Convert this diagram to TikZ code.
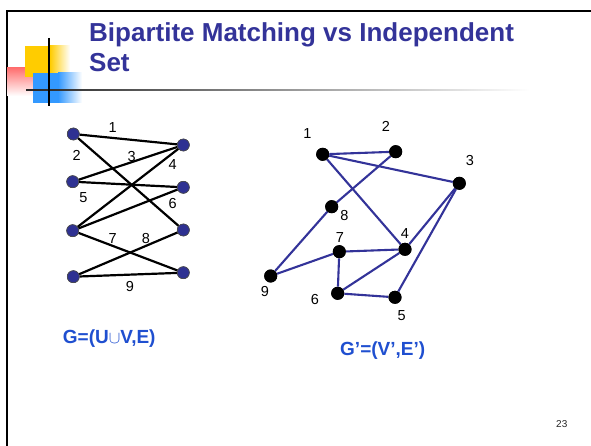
\documentclass[tikz,border=0pt]{standalone}
\usepackage{fontspec}
\setmainfont{Liberation Sans}
\definecolor{titleblue}{HTML}{333399}
\definecolor{edgeblue}{HTML}{333399}
\definecolor{nodenavy}{HTML}{2E3192}
\definecolor{labblue}{HTML}{1F4FD0}
\definecolor{decoyellow}{HTML}{FFCC00}
\definecolor{decoblue}{HTML}{3399FF}
\definecolor{decored}{HTML}{FF7070}
\tikzset{
  lnode/.style={circle,fill=nodenavy,draw=black!70,line width=0.6pt,minimum size=12pt,inner sep=0pt},
  rnode/.style={circle,fill=black,minimum size=13pt,inner sep=0pt},
  ledge/.style={black,line width=2.2pt},
  redge/.style={edgeblue,line width=2.1pt},
  numlab/.style={font=\fontsize{14.5}{16}\selectfont,inner sep=0pt},
  glab/.style={font=\fontsize{19}{21}\selectfont\bfseries,text=labblue,inner sep=0pt,anchor=base west},
}
\begin{document}
\begin{tikzpicture}[x=1pt,y=-1pt]
\useasboundingbox (0,0) rectangle (591,446);
\fill[white] (0,0) rectangle (591,446);
% frame
\draw[black,line width=2pt] (7,446) -- (7,11.5) -- (591,11.5);
% decoration
\shade[top color=decored, bottom color=white] (7,68) rectangle (33,96);
\fill[decoyellow] (25,46) rectangle (50,77);
\shade[left color=decoyellow, right color=white] (50,46) rectangle (70,77);
\fill[decoblue] (33,73) rectangle (58,103);
\shade[left color=decoblue, right color=white] (58,73) rectangle (82,103);
\shade[left color=black!85, right color=white] (26,89.2) rectangle (530,90.8);
\draw[black,line width=1.6pt] (49,38) -- (49,106);
% title
\node[anchor=base west,inner sep=0pt,text=titleblue,font=\fontsize{26}{30}\selectfont\bfseries] (t1) at (89,41.5) {Bipartite Matching vs Independent};
\node[anchor=base west,inner sep=0pt,text=titleblue,font=\fontsize{26}{30}\selectfont\bfseries] (t2) at (89,71.5) {Set};
% left graph
\node[lnode] (L1) at (73.3,134) {};
\node[lnode] (L2) at (72.7,181.7) {};
\node[lnode] (L3) at (72.7,230.7) {};
\node[lnode] (L4) at (73.3,276.7) {};
\node[lnode] (R1) at (183.3,145) {};
\node[lnode] (R2) at (183.3,187.3) {};
\node[lnode] (R3) at (183.3,230) {};
\node[lnode] (R4) at (183.3,272.7) {};
\draw[ledge] (L1) -- (R1);
\draw[ledge] (L1) -- (R3);
\draw[ledge] (L2) -- (R1);
\draw[ledge] (L3) -- (R1);
\draw[ledge] (L2) -- (R2);
\draw[ledge] (L3) -- (R2);
\draw[ledge] (L3) -- (R4);
\draw[ledge] (L4) -- (R3);
\draw[ledge] (L4) -- (R4);
\foreach \n in {L1,L2,L3,L4,R1,R2,R3,R4} {\node[lnode] at (\n) {};}
\node[numlab] (e1) at (112.7,127.3) {1};
\node[numlab] (e2) at (76.7,155) {2};
\node[numlab] (e3) at (131.7,156.7) {3};
\node[numlab] (e4) at (172.7,165) {4};
\node[numlab] (e5) at (83.3,197.3) {5};
\node[numlab] (e6) at (172.7,203.3) {6};
\node[numlab] (e7) at (112.7,238.3) {7};
\node[numlab] (e8) at (146,238.3) {8};
\node[numlab] (e9) at (130,286.7) {9};
% right graph
\node[rnode] (v1) at (322.7,154.3) {};
\node[rnode] (v2) at (395.7,151.7) {};
\node[rnode] (v3) at (459.3,183.3) {};
\node[rnode] (v8) at (331.7,206.7) {};
\node[rnode] (v4) at (405,249.3) {};
\node[rnode] (v7) at (339.3,251.7) {};
\node[rnode] (v9) at (270.7,276) {};
\node[rnode] (v6) at (337.7,293.3) {};
\node[rnode] (v5) at (395,297.3) {};
\draw[redge] (v1) -- (v2);
\draw[redge] (v1) -- (v3);
\draw[redge] (v1) -- (v4);
\draw[redge] (v2) -- (v8);
\draw[redge] (v8) -- (v9);
\draw[redge] (v9) -- (v7);
\draw[redge] (v7) -- (v4);
\draw[redge] (v7) -- (v6);
\draw[redge] (v6) -- (v4);
\draw[redge] (v6) -- (v5);
\draw[redge] (v5) -- (v3);
\draw[redge] (v4) -- (v3);
\foreach \n in {v1,v2,v3,v4,v5,v6,v7,v8,v9} {\node[rnode] at (\n) {};}
\node[numlab] (n1) at (307.3,134) {1};
\node[numlab] (n2) at (386,126.7) {2};
\node[numlab] (n3) at (470,160.7) {3};
\node[numlab] (n8) at (344.3,216) {8};
\node[numlab] (n4) at (405,233.3) {4};
\node[numlab] (n7) at (340,237.7) {7};
\node[numlab] (n9) at (265,291.7) {9};
\node[numlab] (n6) at (315,299.3) {6};
\node[numlab] (n5) at (401.7,316) {5};
% captions
\node[glab] (gl) at (62.7,343.5) {G=(U$\cup$V,E)};
\node[glab] (gr) at (340,355.5) {G’=(V’,E’)};
\node[anchor=base west,inner sep=0pt,font=\fontsize{10}{11}\selectfont,text=black!85] (pg) at (556,427.5) {23};
\end{tikzpicture}
\end{document}
